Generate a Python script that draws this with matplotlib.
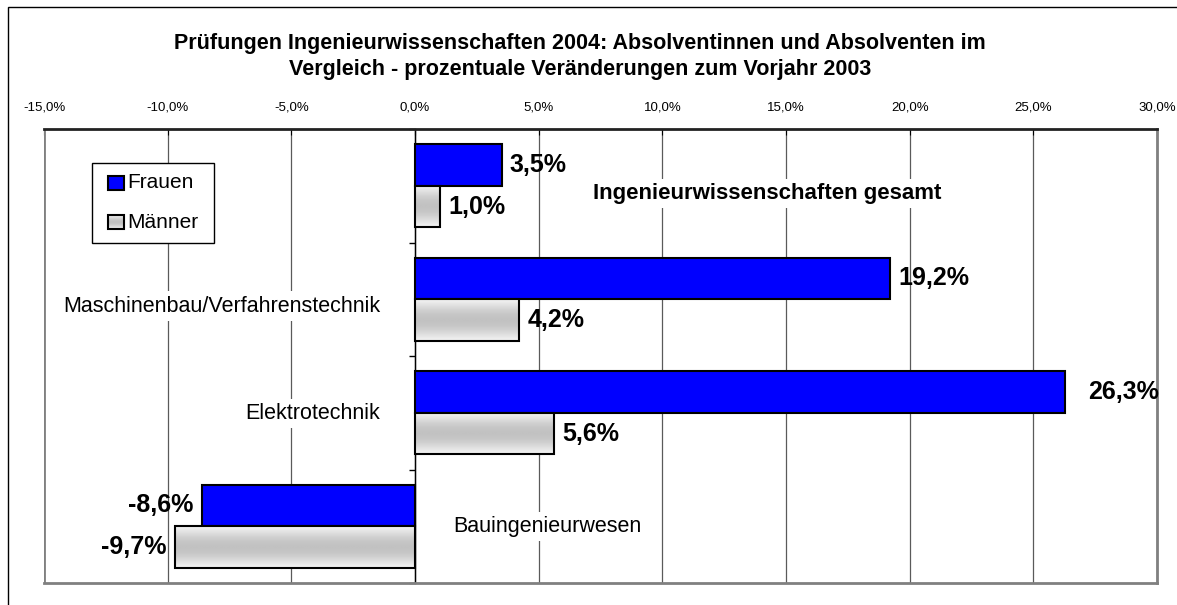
import numpy as np
import matplotlib.pyplot as plt
from matplotlib.patches import Rectangle
from matplotlib.ticker import FuncFormatter

plt.rcParams['font.family'] = ['Liberation Sans', 'DejaVu Sans']

categories = ["Ingenieurwissenschaften gesamt", "Maschinenbau/Verfahrenstechnik",
              "Elektrotechnik", "Bauingenieurwesen"]
frauen = [3.5, 19.2, 26.3, -8.6]
maenner = [1.0, 4.2, 5.6, -9.7]
series_names = ["Frauen", "Männer"]
title_lines = ["Prüfungen Ingenieurwissenschaften 2004: Absolventinnen und Absolventen im",
               "Vergleich - prozentuale Veränderungen zum Vorjahr 2003"]

W, H = 1177, 605
fig = plt.figure(figsize=(W / 100, H / 100), dpi=100)
ax = fig.add_axes([44 / W, 1 - 583 / H, (1157 - 44) / W, (583 - 129) / H])

pos = np.arange(len(categories))
h = 0.366
bars_f = ax.barh(pos - h / 2, frauen, height=h, color='#0000FF', edgecolor='black',
                 linewidth=1.5, zorder=3)
bars_m = ax.barh(pos + h / 2, maenner, height=h, color='none', edgecolor='black',
                 linewidth=1.5, zorder=4)

# grey gradient fill for the men's bars
t = np.linspace(0, 1, 64)
grad = (0.95 - 0.19 * np.sin(np.pi * t) ** 1.2).reshape(-1, 1)


def gradient_fill(patch, axes, transform=None):
    x0, y0 = patch.get_x(), patch.get_y()
    kw = {} if transform is None else {'transform': transform}
    im = axes.imshow(grad, extent=[x0, x0 + patch.get_width(), y0 + patch.get_height(), y0],
                     aspect='auto', cmap='gray', vmin=0, vmax=1,
                     zorder=patch.get_zorder() - 0.5, interpolation='bilinear', **kw)
    im.set_clip_path(patch)


for b in bars_m:
    gradient_fill(b, ax)

ax.set_xlim(-15, 30)
ax.set_ylim(3.5, -0.5)

# axes / frame
ax.xaxis.tick_top()
ax.set_xticks(np.arange(-15, 31, 5))
ax.xaxis.set_major_formatter(FuncFormatter(lambda v, p: f"{v:.1f}%".replace('.', ',')))
ax.tick_params(axis='x', direction='in', length=4, pad=11, labelsize=9.5, colors='black')
ax.grid(axis='x', color='#5a5a5a', linewidth=0.9, zorder=0)
ax.set_axisbelow(True)

ax.spines['left'].set_position(('data', 0))
ax.spines['left'].set_color('black')
ax.spines['left'].set_linewidth(1.0)
ax.spines['left'].set_zorder(2)
ax.set_yticks(np.arange(-0.5, len(categories), 1.0))
ax.set_yticklabels([])
ax.tick_params(axis='y', direction='out', length=4, width=1, color='black')
ax.spines['top'].set_color('#222222')
ax.spines['top'].set_linewidth(2)
for s in ['right', 'bottom']:
    ax.spines[s].set_color('#808080')
    ax.spines[s].set_linewidth(2)
ax.axvline(-15, color='#808080', linewidth=2, zorder=1)

# value labels
for i, (f, m) in enumerate(zip(frauen, maenner)):
    for val, yy in [(f, i - h / 2), (m, i + h / 2)]:
        off = 6 if val > 0 else -6.5
        if val > 25:
            off = 16.5
        ax.annotate(f"{val:.1f}%".replace('.', ','), (val, yy), xytext=(off, 0),
                    textcoords='offset points', ha='left' if val > 0 else 'right',
                    va='center', fontsize=18, fontweight='bold', zorder=6)

# category labels
box = dict(facecolor='white', edgecolor='none', pad=3)
ax.text(7.2, 0.07, categories[0], ha='left', va='center', fontsize=16,
        fontweight='bold', bbox=box, zorder=2)
ax.text(-1.42, 1.06, categories[1], ha='right', va='center', fontsize=15.5, bbox=box, zorder=2)
ax.text(-1.42, 2.01, categories[2], ha='right', va='center', fontsize=15.5, bbox=box, zorder=2)
ax.text(1.54, 3.0, categories[3], ha='left', va='center', fontsize=15.5, bbox=box, zorder=2)

# legend (drawn by hand, axes fraction coordinates)
def px(x, y):
    return (x - 44) / 1113, (583 - y) / 454


lx0, ly0 = px(92, 243)
lx1, ly1 = px(214, 163)
ax.add_patch(Rectangle((lx0, ly0), lx1 - lx0, ly1 - ly0, transform=ax.transAxes,
                       facecolor='white', edgecolor='black', linewidth=1, zorder=7))
for name, yc, fill in [(series_names[0], 183, '#0000FF'), (series_names[1], 222, None)]:
    sx0, sy0 = px(108, yc + 7)
    sx1, sy1 = px(124, yc - 7)
    sq = Rectangle((sx0, sy0), sx1 - sx0, sy1 - sy0, transform=ax.transAxes,
                   facecolor=fill if fill else 'none', edgecolor='black', linewidth=1.5, zorder=9)
    ax.add_patch(sq)
    if fill is None:
        im = ax.imshow(grad, extent=[sx0, sx1, sy0, sy1], transform=ax.transAxes,
                       aspect='auto', cmap='gray', vmin=0, vmax=1, zorder=8,
                       interpolation='bilinear')
        im.set_clip_path(sq)
    tx, ty = px(127, yc)
    ax.text(tx, ty, name, transform=ax.transAxes, ha='left', va='center',
            fontsize=15, zorder=9)

ax.set_xlim(-15, 30)
ax.set_ylim(3.5, -0.5)

# title
fig.text(580 / W, 1 - 43 / H, title_lines[0], ha='center', va='center',
         fontsize=15.5, fontweight='bold')
fig.text(580 / W, 1 - 69 / H, title_lines[1], ha='center', va='center',
         fontsize=15.5, fontweight='bold')

# outer chart border
fig.patches.append(Rectangle((8 / W, -0.05), 1.1, 1 - 7 / H + 0.05, transform=fig.transFigure,
                             fill=False, edgecolor='black', linewidth=1))

fig.savefig('out.png', dpi=100)
